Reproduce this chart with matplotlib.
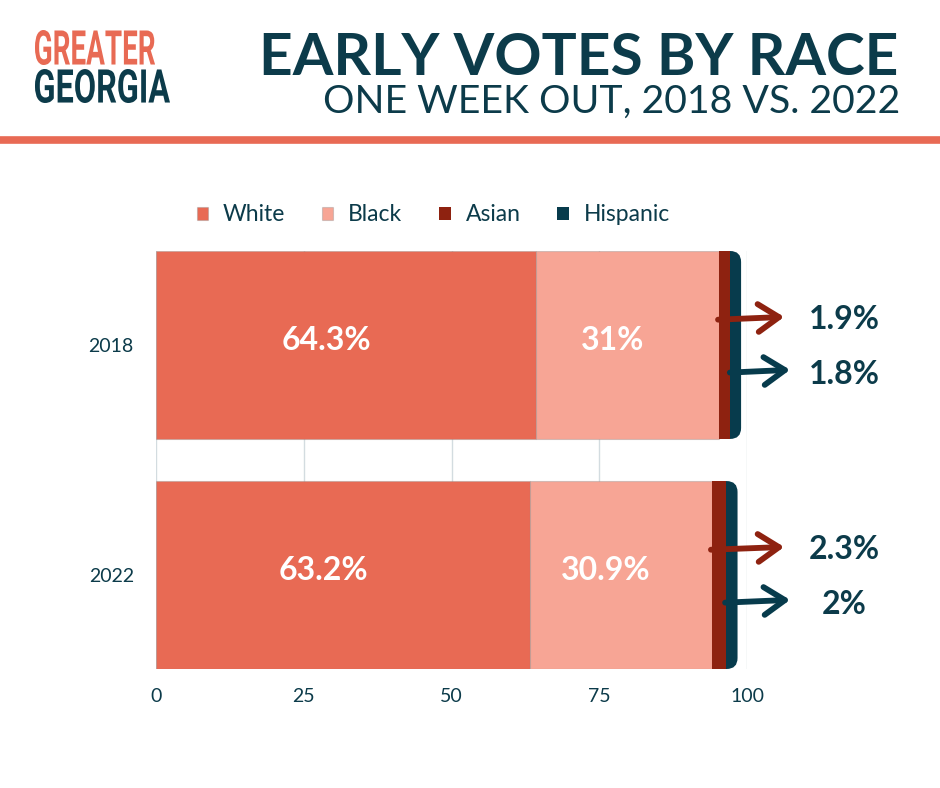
import matplotlib
matplotlib.use("Agg")
import matplotlib.pyplot as plt
from matplotlib.patches import FancyBboxPatch, PathPatch
from matplotlib.textpath import TextPath
from matplotlib.font_manager import FontProperties
from matplotlib.transforms import Affine2D, IdentityTransform
import numpy as np

# data
years = ["2018", "2022"]
races = ["White", "Black", "Asian", "Hispanic"]
white = [64.3, 63.2]
black = [31.0, 30.9]
asian = [1.9, 2.3]
hispanic = [1.8, 2.0]
bar_labels_white = ["64.3%", "63.2%"]
bar_labels_black = ["31%", "30.9%"]
side_labels_asian = ["1.9%", "2.3%"]
side_labels_hisp = ["1.8%", "2%"]
xticks = [0, 25, 50, 75, 100]

c_white = "#E86A54"
c_black = "#F7A595"
c_asian = "#8E2210"
c_hisp = "#073B4C"
c_text = "#0C3B4A"

plt.rcParams['font.family'] = ['Lato', 'DejaVu Sans']

W, H = 940, 788
fig = plt.figure(figsize=(9.4, 7.88), dpi=100)
fig.patch.set_facecolor("white")


def logo_word(word, color, x0, x1, ytop, ybot):
    # squeeze a bold word into a pixel box to mimic the condensed logo type
    tp = TextPath((0, 0), word, size=100, prop=FontProperties(family="Roboto", weight="bold"))
    bb = tp.get_extents()
    sx = (x1 - x0) / bb.width
    sy = (ybot - ytop) / bb.height
    tr = Affine2D().translate(-bb.x0, -bb.y0).scale(sx, sy).translate(x0, H - ybot)
    fig.add_artist(PathPatch(tp, transform=tr + IdentityTransform(), facecolor=color,
                             edgecolor="none"))


logo_word("GREATER", c_white, 35, 155, 30, 65)
logo_word("GEORGIA", c_text, 35, 170, 69, 103)

# header
fig.text(0.956, 0.926, "EARLY VOTES BY RACE", ha="right", va="center",
         fontsize=42.1, fontweight="bold", color=c_text)
fig.text(0.958, 0.871, "ONE WEEK OUT, 2018 VS. 2022", ha="right", va="center",
         fontsize=28.3, fontweight="normal", color=c_text)
fig.add_artist(plt.Line2D([0, 1], [0.822, 0.822], transform=fig.transFigure,
                          color=c_white, linewidth=5.5))

ax = fig.add_axes([156 / W, 1 - 669 / H, (747 - 156) / W, (669 - 251) / H])
y = np.arange(len(years))
h = 0.817

ax.set_xlim(0, 100)
ax.set_ylim(1 + h / 2, -h / 2)
ax.set_xticks(xticks)
ax.set_yticks(y)
ax.set_yticklabels(years)
ax.tick_params(length=0, labelsize=14, labelcolor=c_text)
ax.tick_params(axis="y", pad=16)
ax.tick_params(axis="x", pad=14)
for s in ax.spines.values():
    s.set_visible(False)
ax.grid(axis="x", color="#d3dce0", linewidth=1)
ax.set_axisbelow(True)

edge = (0.55, 0.55, 0.55, 0.35)
left = np.zeros(len(years))
ax.barh(y, white, height=h, left=left, color=c_white, edgecolor=edge, linewidth=0.8, label="White", zorder=2)
left = left + np.array(white)
ax.barh(y, black, height=h, left=left, color=c_black, edgecolor=edge, linewidth=0.8, label="Black", zorder=2)
left = left + np.array(black)

# Hispanic end with rounded cap, drawn under the Asian segment
x_per_px = 100 / (747 - 156)
y_per_px = (1 + h) / (669 - 251)
for i in range(len(years)):
    p = FancyBboxPatch((left[i], y[i] - h / 2), asian[i] + hispanic[i], h,
                       boxstyle="round,pad=0,rounding_size=%f" % (11 * x_per_px),
                       mutation_aspect=y_per_px / x_per_px,
                       facecolor=c_hisp, edgecolor="none", zorder=2)
    ax.add_patch(p)
ax.barh(y, asian, height=h, left=left, color=c_asian, edgecolor="none", label="Asian", zorder=3)
ax.barh([np.nan], [0], color=c_hisp, label="Hispanic")
asian_end = left + np.array(asian)

# value labels inside
for i in range(len(years)):
    ax.text(white[i] / 2 - 3.3, y[i] - 0.02, bar_labels_white[i], ha="center", va="center",
            color="white", fontsize=23, fontweight="bold", zorder=5)
    ax.text(white[i] + black[i] / 2 - 2.5, y[i] - 0.02, bar_labels_black[i], ha="center", va="center",
            color="white", fontsize=23, fontweight="bold", zorder=5)

# arrows to the small segments
for i in range(len(years)):
    ya = y[i] - 0.11
    yh = y[i] + 0.12
    ax.annotate("", xy=(106.3, ya - 0.012), xytext=(left[i] - 0.2, ya),
                arrowprops=dict(arrowstyle="->,head_length=0.75,head_width=0.5", color=c_asian,
                                lw=4.2, mutation_scale=20, shrinkA=0, shrinkB=0),
                annotation_clip=False, zorder=6)
    ax.annotate("", xy=(107.3, yh - 0.012), xytext=(asian_end[i] - 0.1, yh),
                arrowprops=dict(arrowstyle="->,head_length=0.75,head_width=0.5", color=c_hisp,
                                lw=4.2, mutation_scale=20, shrinkA=0, shrinkB=0),
                annotation_clip=False, zorder=6)
    ax.text(116.5, ya + 0.0, side_labels_asian[i], ha="center", va="center",
            fontsize=23, fontweight="bold", color=c_text, clip_on=False)
    ax.text(116.5, yh + 0.01, side_labels_hisp[i], ha="center", va="center",
            fontsize=23, fontweight="bold", color=c_text, clip_on=False)

leg = ax.legend(loc="lower center", bbox_to_anchor=(0.469, 1.012), ncol=4, frameon=False,
                fontsize=16.5, handlelength=0.5, handleheight=0.5, columnspacing=1.6,
                handletextpad=0.65, labelcolor=c_text)

fig.savefig("out.png", dpi=100, facecolor="white")
